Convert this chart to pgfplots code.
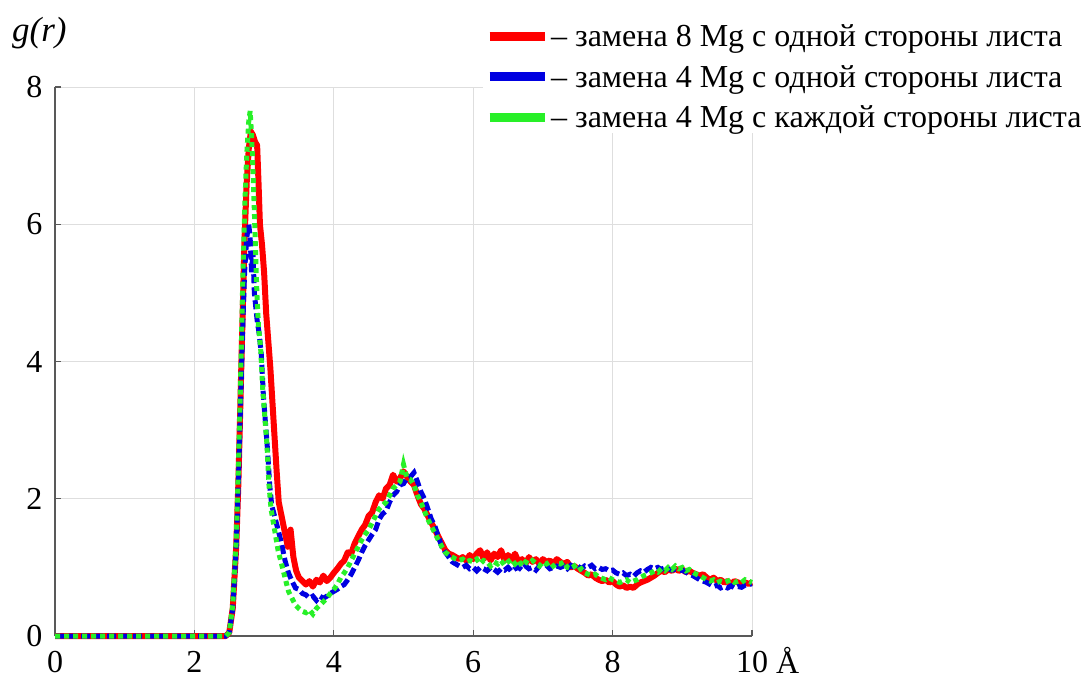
\documentclass[border=0pt]{standalone}
\usepackage{fontspec}
\setmainfont{Liberation Serif}
\usepackage{pgfplots}
\pgfplotsset{compat=1.18}
\definecolor{cred}{RGB}{255,0,0}
\definecolor{cblue}{RGB}{0,0,225}
\definecolor{cgreen}{RGB}{40,240,40}
\newcommand{\tfont}{\fontsize{32}{36}\selectfont}
\newcommand{\lfont}{\fontsize{32}{36}\selectfont}
\begin{document}
\begin{tikzpicture}
\path[use as bounding box] (0pt,0pt) rectangle (1089pt,681pt);
\begin{axis}[
  at={(55pt,45pt)}, anchor=south west,
  scale only axis, width=697pt, height=549pt,
  xmin=0, xmax=10, ymin=0, ymax=8,
  axis x line*=bottom, axis y line*=left,
  axis line style={-, line width=1.2pt, color=black!65},
  xtick={0,2,4,6,8,10}, ytick={0,2,4,6,8},
  grid=major, grid style={line width=0.8pt, color=black!13},
  tick align=inside, major tick length=6pt,
  tick style={line width=1.2pt, color=black!65},
  /pgf/number format/assume math mode=true,
  tick label style={font=\tfont},
  xticklabel style={yshift=-12pt},
  yticklabel style={xshift=-9pt},
  clip=false,
  legend style={at={(axis description cs:0.614,1.121)}, anchor=north west,
    draw=none, fill=white, inner sep=2pt, font=\lfont, row sep=13pt,
    cells={anchor=west}},
  legend image code/.code={\draw[#1,solid,line width=9pt] (0pt,0pt) -- (55pt,0pt);},
  every axis plot/.append style={line width=5pt},
]
\addplot[cred, solid, line join=round, line width=6pt] coordinates {
(0,0) (2.45,0) (2.50,0.05) (2.55,0.4) (2.60,1.3) (2.63,2.2) (2.66,3.4) (2.69,4.6)
(2.72,5.8) (2.75,6.6) (2.78,7.1) (2.81,7.35) (2.84,7.30) (2.87,7.20) (2.90,7.15)
(2.92,6.6) (2.94,6.0) (2.97,5.7) (3.00,5.3) (3.03,4.7) (3.06,4.3) (3.09,3.9)
(3.12,3.4) (3.15,2.9) (3.18,2.4) (3.21,1.95) (3.25,1.75) (3.30,1.5) (3.34,1.3)
(3.38,1.55) (3.42,1.15) (3.46,0.95) (3.50,0.85) (3.55,0.80) (3.60,0.75) (3.65,0.80)
(3.70,0.72) (3.75,0.82) (3.80,0.78) (3.85,0.88) (3.90,0.80) (3.95,0.85) (4.00,0.92)
(4.05,0.98) (4.10,1.05) (4.15,1.10) (4.20,1.22) (4.25,1.20) (4.30,1.35) (4.35,1.45)
(4.40,1.55) (4.45,1.62) (4.50,1.75) (4.55,1.80) (4.60,1.95) (4.65,2.05) (4.70,2.0)
(4.75,2.15) (4.80,2.20) (4.85,2.35) (4.90,2.25) (4.95,2.30) (5.00,2.40) (5.05,2.32)
(5.10,2.25) (5.15,2.20) (5.20,2.05) (5.25,1.92) (5.30,1.85) (5.35,1.75) (5.40,1.65)
(5.45,1.55) (5.50,1.45) (5.55,1.35) (5.60,1.25) (5.65,1.20) (5.70,1.18) (5.75,1.15)
(5.80,1.12) (5.85,1.15) (5.90,1.10) (5.95,1.18) (6.00,1.12) (6.05,1.20) (6.10,1.25)
(6.15,1.12) (6.20,1.22) (6.25,1.10) (6.30,1.20) (6.35,1.15) (6.40,1.25) (6.45,1.10)
(6.50,1.18) (6.55,1.10) (6.60,1.20) (6.65,1.08) (6.70,1.12) (6.75,1.05) (6.80,1.15)
(6.85,1.08) (6.90,1.12) (6.95,1.05) (7.00,1.12) (7.05,1.08) (7.10,1.10) (7.15,1.05)
(7.20,1.12) (7.25,1.08) (7.30,1.05) (7.35,1.08) (7.40,1.00) (7.45,1.02) (7.50,0.98)
(7.55,0.95) (7.60,0.92) (7.65,0.88) (7.70,0.90) (7.75,0.85) (7.80,0.82) (7.85,0.80)
(7.90,0.82) (7.95,0.78) (8.00,0.80) (8.05,0.75) (8.10,0.72) (8.15,0.74) (8.20,0.70)
(8.25,0.72) (8.30,0.70) (8.35,0.75) (8.40,0.78) (8.45,0.80) (8.50,0.82) (8.55,0.85)
(8.60,0.88) (8.65,0.92) (8.70,0.95) (8.75,0.93) (8.80,0.97) (8.85,0.95) (8.90,0.98)
(8.95,0.95) (9.00,0.97) (9.05,0.93) (9.10,0.95) (9.15,0.92) (9.20,0.90) (9.25,0.88)
(9.30,0.90) (9.35,0.85) (9.40,0.82) (9.45,0.85) (9.50,0.80) (9.55,0.82) (9.60,0.78)
(9.65,0.80) (9.70,0.76) (9.75,0.80) (9.80,0.78) (9.85,0.75) (9.90,0.78) (9.95,0.76)
(10.00,0.78)
};
\addlegendentry{– замена 8 Mg с одной стороны листа}
\addplot[cblue, dash pattern=on 9pt off 4pt] coordinates {
(0,0) (2.45,0) (2.50,0.05) (2.55,0.4) (2.60,1.3) (2.63,2.2) (2.66,3.3) (2.69,4.4)
(2.72,5.3) (2.75,5.8) (2.78,6.0) (2.80,5.8) (2.82,5.3) (2.84,5.6) (2.86,5.0)
(2.88,4.8) (2.90,4.6) (2.93,4.4) (2.96,4.1) (2.99,3.5) (3.02,3.1) (3.05,2.7)
(3.08,2.2) (3.11,1.9) (3.15,1.75) (3.20,1.55) (3.25,1.35) (3.30,1.10) (3.35,0.92)
(3.40,0.80) (3.45,0.70) (3.50,0.68) (3.55,0.62) (3.60,0.60) (3.65,0.55) (3.70,0.58)
(3.75,0.52) (3.80,0.58) (3.85,0.55) (3.90,0.58) (3.95,0.62) (4.00,0.65) (4.05,0.68)
(4.10,0.72) (4.15,0.75) (4.20,0.82) (4.25,0.90) (4.30,1.00) (4.35,1.10) (4.40,1.22)
(4.45,1.32) (4.50,1.40) (4.55,1.48) (4.60,1.55) (4.65,1.70) (4.70,1.78) (4.75,1.82)
(4.80,1.95) (4.85,2.05) (4.90,2.10) (4.95,2.20) (5.00,2.22) (5.05,2.30) (5.10,2.32)
(5.15,2.38) (5.20,2.25) (5.25,2.10) (5.30,2.00) (5.35,1.85) (5.40,1.70) (5.45,1.60)
(5.50,1.45) (5.55,1.30) (5.60,1.22) (5.65,1.15) (5.70,1.08) (5.75,1.05) (5.80,1.02)
(5.85,1.00) (5.90,1.03) (5.95,0.98) (6.00,1.00) (6.05,0.95) (6.10,1.00) (6.15,0.98)
(6.20,0.95) (6.25,1.00) (6.30,0.97) (6.35,0.93) (6.40,0.98) (6.45,0.96) (6.50,1.00)
(6.55,0.94) (6.60,0.98) (6.65,1.00) (6.70,0.96) (6.75,1.02) (6.80,0.98) (6.85,1.00)
(6.90,0.96) (6.95,1.02) (7.00,1.00) (7.05,1.03) (7.10,0.98) (7.15,1.00) (7.20,1.02)
(7.25,1.00) (7.30,1.02) (7.35,0.98) (7.40,1.03) (7.45,1.00) (7.50,1.02) (7.55,0.98)
(7.60,1.02) (7.65,1.00) (7.70,1.03) (7.75,0.98) (7.80,1.00) (7.85,0.97) (7.90,0.98)
(7.95,0.95) (8.00,0.96) (8.05,0.92) (8.10,0.90) (8.15,0.92) (8.20,0.88) (8.25,0.90)
(8.30,0.87) (8.35,0.92) (8.40,0.95) (8.45,0.93) (8.50,0.97) (8.55,1.00) (8.60,0.98)
(8.65,1.00) (8.70,0.97) (8.75,1.00) (8.80,0.98) (8.85,0.96) (8.90,0.97) (8.95,0.95)
(9.00,0.96) (9.05,0.93) (9.10,0.90) (9.15,0.88) (9.20,0.85) (9.25,0.82) (9.30,0.80)
(9.35,0.78) (9.40,0.75) (9.45,0.72) (9.50,0.74) (9.55,0.70) (9.60,0.72) (9.65,0.70)
(9.70,0.73) (9.75,0.70) (9.80,0.72) (9.85,0.71) (9.90,0.74) (9.95,0.75) (10.00,0.76)
};
\addlegendentry{– замена 4 Mg с одной стороны листа}
\addplot[cgreen, dash pattern=on 5pt off 4pt] coordinates {
(0,0) (2.45,0) (2.50,0.05) (2.55,0.45) (2.60,1.4) (2.63,2.4) (2.66,3.6) (2.69,5.0)
(2.72,6.2) (2.75,7.0) (2.78,7.5) (2.80,7.65) (2.82,7.3) (2.84,6.8) (2.86,6.2)
(2.88,5.5) (2.90,4.9) (2.92,4.5) (2.95,4.2) (2.98,3.6) (3.01,3.2) (3.04,2.8)
(3.07,2.2) (3.10,1.85) (3.15,1.55) (3.20,1.25) (3.25,1.05) (3.30,0.85) (3.35,0.65)
(3.40,0.55) (3.45,0.45) (3.50,0.40) (3.55,0.36) (3.60,0.34) (3.65,0.38) (3.70,0.32)
(3.75,0.40) (3.80,0.45) (3.85,0.50) (3.90,0.55) (3.95,0.62) (4.00,0.68) (4.05,0.75)
(4.10,0.85) (4.15,0.92) (4.20,1.00) (4.25,1.10) (4.30,1.20) (4.35,1.30) (4.40,1.40)
(4.45,1.48) (4.50,1.55) (4.55,1.65) (4.60,1.75) (4.65,1.85) (4.70,1.90) (4.75,1.95)
(4.80,2.05) (4.85,2.15) (4.90,2.20) (4.95,2.25) (5.00,2.50) (5.05,2.30) (5.10,2.28)
(5.15,2.20) (5.20,2.05) (5.25,1.95) (5.30,1.82) (5.35,1.70) (5.40,1.60) (5.45,1.50)
(5.50,1.40) (5.55,1.30) (5.60,1.22) (5.65,1.18) (5.70,1.15) (5.75,1.12) (5.80,1.10)
(5.85,1.12) (5.90,1.08) (5.95,1.10) (6.00,1.08) (6.05,1.12) (6.10,1.05) (6.15,1.10)
(6.20,1.08) (6.25,1.02) (6.30,1.08) (6.35,1.05) (6.40,1.10) (6.45,1.03) (6.50,1.08)
(6.55,1.12) (6.60,1.05) (6.65,1.10) (6.70,1.02) (6.75,1.08) (6.80,1.05) (6.85,1.10)
(6.90,1.06) (6.95,1.02) (7.00,1.08) (7.05,1.05) (7.10,1.08) (7.15,1.02) (7.20,1.06)
(7.25,1.05) (7.30,1.08) (7.35,1.00) (7.40,0.98) (7.45,1.02) (7.50,0.95) (7.55,0.98)
(7.60,0.92) (7.65,0.90) (7.70,0.88) (7.75,0.90) (7.80,0.86) (7.85,0.84) (7.90,0.82)
(7.95,0.85) (8.00,0.82) (8.05,0.80) (8.10,0.78) (8.15,0.80) (8.20,0.82) (8.25,0.78)
(8.30,0.80) (8.35,0.82) (8.40,0.85) (8.45,0.88) (8.50,0.90) (8.55,0.92) (8.60,0.95)
(8.65,0.93) (8.70,0.98) (8.75,0.95) (8.80,1.00) (8.85,0.97) (8.90,1.02) (8.95,0.98)
(9.00,1.00) (9.05,0.95) (9.10,0.97) (9.15,0.93) (9.20,0.90) (9.25,0.88) (9.30,0.85)
(9.35,0.82) (9.40,0.80) (9.45,0.82) (9.50,0.78) (9.55,0.80) (9.60,0.78) (9.65,0.80)
(9.70,0.82) (9.75,0.78) (9.80,0.80) (9.85,0.78) (9.90,0.82) (9.95,0.80) (10.00,0.78)
};
\addlegendentry{– замена 4 Mg с каждой стороны листа}
\node[anchor=base west, font=\fontsize{35}{40}\selectfont\itshape, inner sep=0pt] at (rel axis cs:0,1) [xshift=-43pt, yshift=45pt] {g(r)};
\node[anchor=base west, font=\tfont, inner sep=0pt] at (rel axis cs:1,0) [xshift=24pt, yshift=-37pt] {Å};
\end{axis}
\end{tikzpicture}
\end{document}
